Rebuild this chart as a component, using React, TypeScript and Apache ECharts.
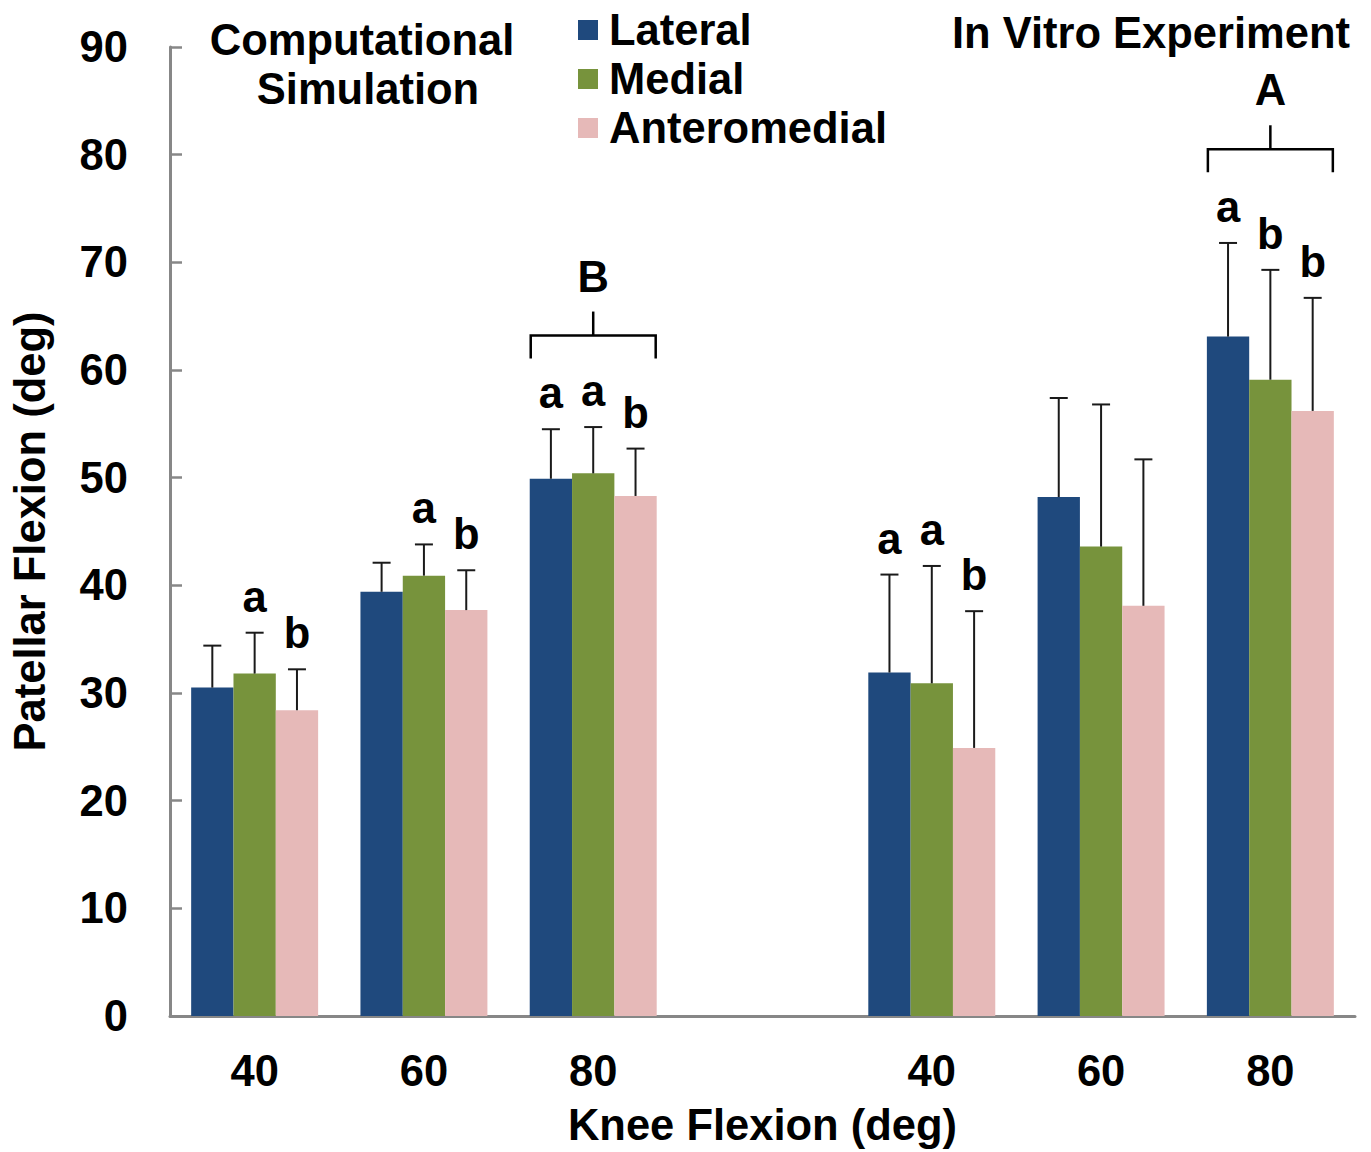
import React, { useEffect, useRef } from "react";
import * as echarts from "echarts";

const categories = ["40", "60", "80", "", "40", "60", "80"];
const seriesNames = ["Lateral", "Medial", "Anteromedial"];
const lateral = [30.5, 39.4, 49.9, null, 31.9, 48.2, 63.1];
const medial = [31.8, 40.9, 50.4, null, 30.9, 43.6, 59.1];
const anteromedial = [28.4, 37.7, 48.3, null, 24.9, 38.1, 56.2];
const lateralErr = [3.9, 2.7, 4.6, null, 9.1, 9.2, 8.7];
const medialErr = [3.8, 2.9, 4.3, null, 10.9, 13.2, 10.2];
const anteromedialErr = [3.8, 3.7, 4.4, null, 12.7, 13.6, 10.5];
const lateralLetters = ["", "", "a", "", "a", "", "a"];
const medialLetters = ["a", "a", "a", "", "a", "", "b"];
const anteromedialLetters = ["b", "b", "b", "", "b", "", "b"];
const bracketCats = [2, 6];
const bracketLevels = [63.2, 80.5];
const bracketLabels = ["B", "A"];
const yTicks = { min: 0, max: 90, interval: 10 };
const titleSim = ["Computational", "Simulation"];
const titleVitro = "In Vitro Experiment";

const COLORS = ["#1F497D", "#77933C", "#E6B9B8"];
const FONT = "Liberation Sans, Arial, Helvetica, sans-serif";
const FS = 43.5;
const BAR_FRAC = 0.25;
const AXIS_COLOR = "#878787";

export default function App() {
  const ref = useRef<HTMLDivElement>(null);
  useEffect(() => {
    if (!ref.current) return;
    const chart = echarts.init(ref.current, null, { renderer: "svg" });
    const values = [lateral, medial, anteromedial];
    const errs = [lateralErr, medialErr, anteromedialErr];
    const letters = [lateralLetters, medialLetters, anteromedialLetters];

    const barSeries = values.map((vals, k) => ({
      type: "bar",
      name: seriesNames[k],
      data: vals,
      barWidth: BAR_FRAC * 100 + "%",
      barGap: "0%",
      itemStyle: { color: COLORS[k] },
      z: 2,
    }));

    const textStyle = (text: string, x: number, y: number, align = "center") => ({
      text,
      x,
      y,
      align,
      verticalAlign: "middle",
      fontSize: FS,
      fontWeight: "bold",
      fontFamily: FONT,
      fill: "#000",
    });

    const errSeries = values.map((vals, k) => ({
      type: "custom",
      name: seriesNames[k] + " err",
      data: vals.map((v, i) => [i, v == null ? NaN : v, errs[k][i] == null ? NaN : errs[k][i]]),
      encode: { x: 0, y: 1 },
      z: 5,
      silent: true,
      renderItem: (params: any, api: any) => {
        const cat = api.value(0);
        const v = api.value(1);
        const e = api.value(2);
        if (isNaN(v) || isNaN(e)) return null;
        const band = api.size([1, 0])[0];
        const bw = band * BAR_FRAC;
        const off = (k - 1) * bw;
        const base = api.coord([cat, v]);
        const top = api.coord([cat, v + e]);
        const x = base[0] + off;
        const letter = letters[k][params.dataIndex];
        const children: any[] = [
          { type: "line", shape: { x1: x, y1: base[1], x2: x, y2: top[1] }, style: { stroke: "#1a1a1a", lineWidth: 2 } },
          { type: "line", shape: { x1: x - 9, y1: top[1], x2: x + 9, y2: top[1] }, style: { stroke: "#1a1a1a", lineWidth: 2 } },
        ];
        if (letter) {
          children.push({ type: "text", style: textStyle(letter, x, top[1] - 36) });
        }
        return { type: "group", children };
      },
    }));

    const bracketSeries = {
      type: "custom",
      name: "brackets",
      data: bracketCats.map((c, i) => [c, bracketLevels[i]]),
      encode: { x: 0, y: 1 },
      z: 5,
      silent: true,
      renderItem: (params: any, api: any) => {
        const p = api.coord([api.value(0), api.value(1)]);
        const band = api.size([1, 0])[0];
        const half = band * BAR_FRAC * 1.5 - 1;
        const cx = p[0];
        const y = p[1];
        const ls = { stroke: "#000", lineWidth: 2.5, fill: null };
        return {
          type: "group",
          children: [
            {
              type: "polyline",
              shape: { points: [[cx - half, y + 23], [cx - half, y], [cx + half, y], [cx + half, y + 23]] },
              style: ls,
            },
            { type: "line", shape: { x1: cx, y1: y, x2: cx, y2: y - 24 }, style: ls },
            { type: "text", style: textStyle(bracketLabels[params.dataIndex], cx, y - 59) },
          ],
        };
      },
    };

    chart.setOption({
      animation: false,
      backgroundColor: "#fff",
      textStyle: { fontFamily: FONT },
      grid: { left: 170, right: 16, top: 47, bottom: 132, containLabel: false },
      legend: {
        data: seriesNames,
        orient: "vertical",
        left: 578,
        top: 8,
        icon: "rect",
        itemWidth: 20,
        itemHeight: 20,
        itemGap: 5,
        padding: 0,
        selectedMode: false,
        textStyle: { fontSize: FS, fontWeight: "bold", color: "#000", lineHeight: 44, padding: [0, 0, 0, 6], fontFamily: FONT },
      },
      graphic: [
        { type: "text", silent: true, style: textStyle(titleSim[0], 362, 40) },
        { type: "text", silent: true, style: textStyle(titleSim[1], 368, 89) },
        { type: "text", silent: true, style: textStyle(titleVitro, 1350, 33, "right") },
      ],
      xAxis: {
        type: "category",
        data: categories,
        name: "Knee Flexion (deg)",
        nameLocation: "middle",
        nameGap: 87,
        nameTextStyle: { fontSize: FS, fontWeight: "bold", color: "#000", fontFamily: FONT },
        axisLine: { lineStyle: { color: AXIS_COLOR, width: 3 } },
        axisTick: { inside: true, length: 12, lineStyle: { color: AXIS_COLOR, width: 2.5 } },
        axisLabel: { fontSize: FS, fontWeight: "bold", color: "#000", margin: 33, fontFamily: FONT },
        splitLine: { show: false },
      },
      yAxis: {
        type: "value",
        min: yTicks.min,
        max: yTicks.max,
        interval: yTicks.interval,
        name: "Patellar Flexion (deg)",
        nameLocation: "middle",
        nameGap: 118,
        nameTextStyle: { fontSize: FS, fontWeight: "bold", color: "#000", fontFamily: FONT },
        axisLine: { show: true, lineStyle: { color: AXIS_COLOR, width: 3 } },
        axisTick: { show: true, inside: true, length: 12, lineStyle: { color: AXIS_COLOR, width: 2.5 } },
        axisLabel: { fontSize: FS, fontWeight: "bold", color: "#000", margin: 42, fontFamily: FONT },
        splitLine: { show: false },
      },
      series: [...barSeries, ...errSeries, bracketSeries],
    });
    return () => chart.dispose();
  }, []);
  return <div ref={ref} style={{ position: "absolute", left: 0, top: 0, width: 1371, height: 1152 }} />;
}
